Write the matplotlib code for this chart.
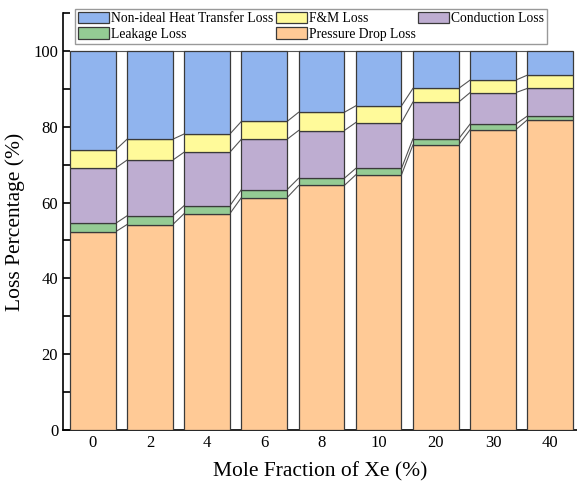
import numpy as np
import matplotlib
matplotlib.use("Agg")
import matplotlib.pyplot as plt

plt.rcParams['font.family'] = ['Liberation Serif', 'DejaVu Serif']

# data (percent of total loss)
xe_labels = ['0', '2', '4', '6', '8', '10', '20', '30', '40']
pressure_drop = [52.3, 54.2, 57.1, 61.3, 64.5, 67.3, 75.2, 79.2, 81.8]
leakage = [2.2, 2.3, 2.1, 2.1, 1.9, 1.7, 1.6, 1.5, 1.0]
conduction = [14.6, 14.7, 14.1, 13.3, 12.6, 12.1, 9.7, 8.3, 7.3]
fm_loss = [4.8, 5.5, 4.8, 4.7, 4.8, 4.4, 3.6, 3.3, 3.5]
non_ideal = [26.1, 23.3, 21.9, 18.6, 16.2, 14.5, 9.9, 7.7, 6.4]

series = [
    ('Pressure Drop Loss', pressure_drop, '#FFCA96'),
    ('Leakage Loss', leakage, '#94CB94'),
    ('Conduction Loss', conduction, '#BEADD1'),
    ('F&M Loss', fm_loss, '#FFFA9A'),
    ('Non-ideal Heat Transfer Loss', non_ideal, '#90B4EE'),
]

fig = plt.figure(figsize=(5.77, 4.88), dpi=100)
ax = fig.add_axes([63/577, 1-430/488, 1-63/577, (430-13)/488])

x = np.arange(len(xe_labels))
w = 0.8
bottom = np.zeros(len(x))
handles = {}
tops = [bottom.copy()]
for name, vals, col in series:
    vals = np.array(vals)
    b = ax.bar(x, vals, w, bottom=bottom, color=col, edgecolor='#3a3a3a',
               linewidth=0.9, label=name, zorder=3)
    handles[name] = b
    bottom = bottom + vals
    tops.append(bottom.copy())

# connecting lines between neighbouring bars
for level in tops:
    for i in range(len(x) - 1):
        ax.plot([x[i] + w/2, x[i+1] - w/2], [level[i], level[i+1]],
                color='#555555', linewidth=0.8, zorder=2)

ax.set_xlim(-0.52, 8.47)
ax.set_ylim(0, 110)
ax.set_xticks(x)
ax.set_xticklabels(xe_labels)
ax.set_yticks([0, 20, 40, 60, 80, 100])
ax.set_yticks(np.arange(10, 111, 20), minor=True)
ax.tick_params(axis='both', which='both', direction='in', labelsize=12, width=1.2)
ax.tick_params(axis='both', which='major', length=5)
ax.tick_params(axis='both', which='minor', length=5)
ax.spines['top'].set_visible(False)
ax.spines['right'].set_visible(False)
ax.spines['left'].set_linewidth(1.2)
ax.spines['bottom'].set_linewidth(1.2)

ax.set_xlabel('Mole Fraction of Xe (%)', fontsize=15.5, labelpad=8)
ax.set_ylabel('Loss Percentage (%)', fontsize=15.5, labelpad=6)

order = ['Non-ideal Heat Transfer Loss', 'Leakage Loss', 'F&M Loss',
         'Pressure Drop Loss', 'Conduction Loss']
leg = fig.legend([handles[k] for k in order], order, ncol=3,
                 loc='upper left', bbox_to_anchor=(75/577, 1-9/488),
                 fontsize=9.8, frameon=True, fancybox=False,
                 handlelength=2.3, handleheight=0.95, handletextpad=0.12,
                 columnspacing=0.2, labelspacing=0.15, borderpad=0.2,
                 borderaxespad=0)
leg.get_frame().set_edgecolor('#808080')
leg.get_frame().set_linewidth(1.0)

fig.savefig('out.png', dpi=100)
